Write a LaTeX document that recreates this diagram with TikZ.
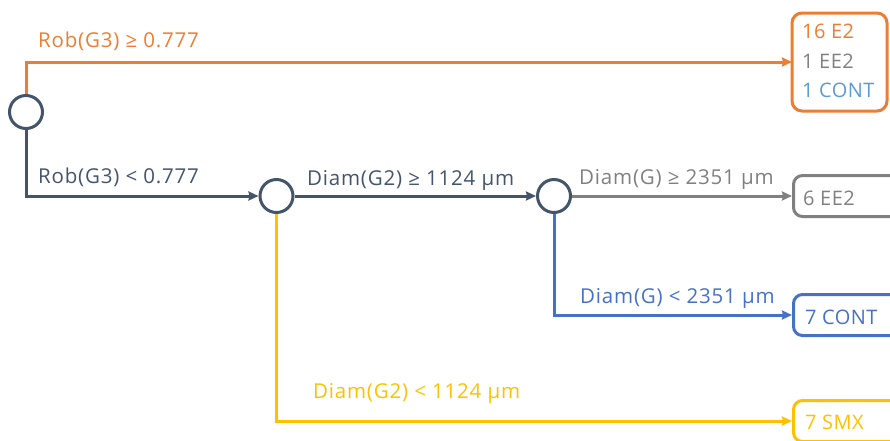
\documentclass[tikz,border=0pt]{standalone}
\usepackage{fontspec}
\setmainfont{Open Sans}
\usetikzlibrary{arrows.meta}
\definecolor{cOrange}{HTML}{ED7D31}
\definecolor{cDark}{HTML}{44546A}
\definecolor{cGray}{HTML}{808080}
\definecolor{cBlue}{HTML}{4472C4}
\definecolor{cLightBlue}{HTML}{5B9BD5}
\definecolor{cYellow}{HTML}{FFC000}
\begin{document}
\begin{tikzpicture}[x=1pt,y=-1pt,
  split/.style={circle, draw=cDark, line width=3pt, minimum size=33pt, inner sep=0pt},
  leaf/.style={draw, rounded corners=9pt, line width=3pt, minimum height=41pt,
               minimum width=120pt, inner sep=0pt},
  link/.style={line width=3pt, -{Stealth[length=10pt,width=9pt,inset=1pt]}},
  lbl/.style={font=\fontsize{20.5}{24}\selectfont\addfontfeatures{LetterSpace=3.9},
              anchor=base west, inner sep=0pt},
  txt/.style={font=\fontsize{20}{23}\selectfont\addfontfeatures{LetterSpace=2},
              anchor=base west, inner sep=0pt}]
\useasboundingbox (0,0) rectangle (890,440);

% decision points
\node[split] (s1) at (26,112) {};
\node[split] (s2) at (276.5,196) {};
\node[split] (s3) at (554,196) {};

% leaves
\path[draw=cOrange, line width=3pt, rounded corners=10pt]
  (792,13) rectangle (887,111);
\coordinate (l1) at (792,62);
\node[leaf, draw=cGray, anchor=west] (l2) at (792,196) {};
\node[leaf, draw=cBlue, anchor=west] (l3) at (792,315) {};
\node[leaf, draw=cYellow, anchor=west] (l4) at (792,421) {};

% leaf contents
\node[txt, text=cOrange] (t1a) at (802,38) {16 E2};
\node[txt, text=cGray] (t1b) at (802,68) {1 EE2};
\node[txt, text=cLightBlue] (t1c) at (802,97) {1 CONT};
\node[txt, text=cGray] (t2) at (803,205) {6 EE2};
\node[txt, text=cBlue] (t3) at (805,324) {7 CONT};
\node[txt, text=cYellow] (t4) at (805,429) {7 SMX};

% branches
\draw[link, cOrange] (s1.north) |- (l1);
\draw[link, cDark] (s1.south) |- (s2.west);
\draw[link, cDark] (s2.east) -- (s3.west);
\draw[link, cYellow] (s2.south) |- (l4.west);
\draw[link, cGray] (s3.east) -- (l2.west);
\draw[link, cBlue] (s3.south) |- (l3.west);

% branch conditions
\node[lbl, text=cOrange] (c1) at (38,47) {Rob(G3) ≥ 0.777};
\node[lbl, text=cDark] (c2) at (38,183) {Rob(G3) < 0.777};
\node[lbl, text=cDark] (c3) at (307,185) {Diam(G2) ≥ 1124 µm};
\node[lbl, text=cGray] (c4) at (579,184) {Diam(G) ≥ 2351 µm};
\node[lbl, text=cBlue] (c5) at (580,303) {Diam(G) < 2351 µm};
\node[lbl, text=cYellow] (c6) at (313,398) {Diam(G2) < 1124 µm};
\end{tikzpicture}
\end{document}
